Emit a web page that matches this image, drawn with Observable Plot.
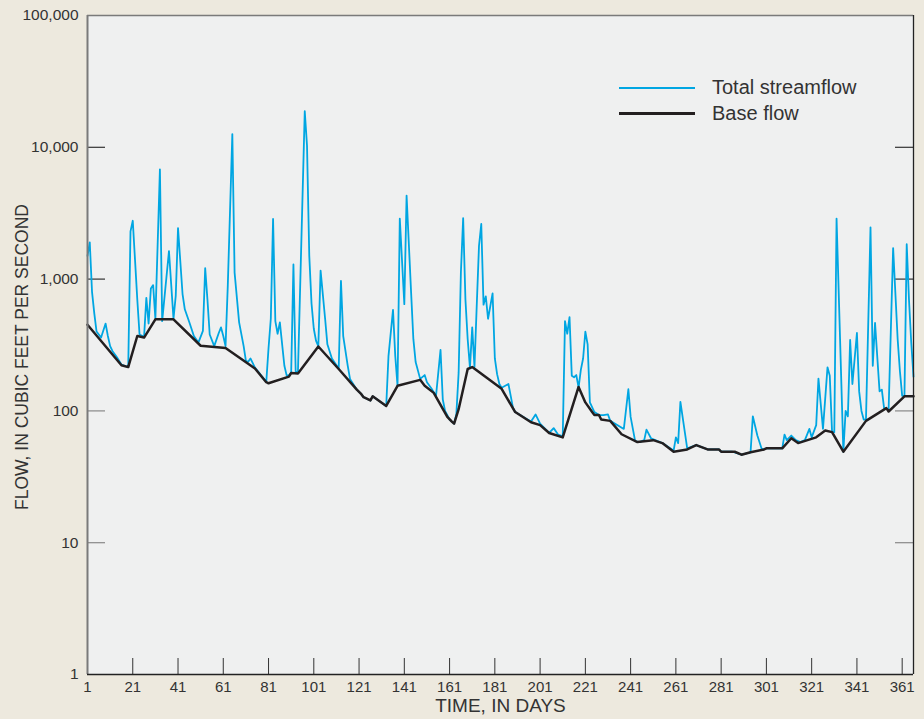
<!DOCTYPE html>
<html><head><meta charset="utf-8">
<script src="https://cdn.jsdelivr.net/npm/d3@7"></script>
<script src="https://cdn.jsdelivr.net/npm/@observablehq/plot@0.6"></script>
<style>
html,body{margin:0;padding:0;background:#ede9de;}
#chart{position:relative;width:924px;height:719px;overflow:hidden;}
#chart svg{display:block;}
.lg{position:absolute;left:0;top:0;font-family:"Liberation Sans",Arial,sans-serif;font-size:20px;color:#333;white-space:nowrap;}
.lg .sw{position:absolute;left:619px;width:76px;}
.lg .tx{position:absolute;left:712px;line-height:22px;}
</style></head>
<body><div id="chart"></div>
<script>
const streamDays = [1,2,3,4,5,6,7,9,10,11,12,14,16,19,20,21,22,23,24,26,27,28,29,30,31,33,34,37,39,40,41,43,44,46,48,50,52,53,54,55,57,59,60,61,62,63,65,66,68,70,71,72,73,75,80,81,82,83,84,85,86,88,89,90,91,92,93,94,97,98,99,100,101,102,103,104,106,107,109,112,113,114,116,117,120,122,123,126,127,133,134,136,137,138,139,141,142,144,145,146,148,150,151,153,155,157,158,159,161,163,164,165,166,167,168,169,170,171,172,173,174,175,176,177,178,180,181,182,183,184,187,189,190,194,197,199,201,205,207,209,211,212,213,214,215,216,217,218,219,220,221,222,223,225,227,229,231,232,238,240,241,243,245,247,248,250,255,260,261,262,263,265,266,270,275,280,281,286,290,294,295,297,299,301,308,309,310,312,314,316,318,320,321,323,324,326,328,329,330,331,332,335,336,337,338,339,341,342,343,344,345,347,348,349,351,352,353,355,357,359,360,361,362,363,364,365,366];
const streamFlow = [1500,1900,800,550,400,380,360,460,370,310,285,255,225,215,2300,2770,1400,700,380,365,720,460,850,900,500,6800,480,1630,500,750,2440,770,590,470,370,330,405,1210,700,380,310,390,430,370,310,900,12600,1120,470,310,240,236,250,213,166,300,500,2860,480,385,470,220,186,186,195,1290,195,200,18800,10300,1500,650,420,340,310,1160,500,320,250,210,970,370,220,175,145,134,127,120,129,109,260,585,260,155,2880,645,4300,790,350,235,175,187,165,148,130,290,122,100,86,80,95,195,1125,2900,700,350,212,430,215,630,1790,2620,640,740,500,780,250,190,160,150,160,106,98,89,83,94,80,68,74,66,64,480,385,515,185,180,187,150,205,250,400,320,116,98,93,93,94,84,73,146,90,59,58,60,72,62,57,50,63,57,117,68,52,55,51,51,49,49,46.5,48.5,91,65,51,52,52,66,60,65,60,58,60,73,63,78,176,73,214,185,70,69,2880,49,100,91,345,160,390,140,100,86,86,2470,220,465,141,145,105,102,1720,350,200,130,130,1840,700,330,182];
const baseDays = [1,16,19,23,26,31,39,51,62,75,80,81,90,91,94,103,112,120,122,123,126,127,133,138,148,150,154,160,162,163,165,169,171,184,190,197,201,205,211,218,221,224,225,227,228,232,237,244,251,255,260,266,270,275,280,281,287,290,294,300,301,308,312,315,323,327,330,335,345,354,355,362,366];
const baseFlow = [450,222,215,370,360,495,495,312,300,210,165,162,182,194,192,308,208,145,134,127,120,129,109,155,172,155,137,90,83,80,103,208,215,147,98,82,78,68,63,152,116,98,93,93,86,84,66.5,58,60,57,49,51,55,51,51,49,49,46.5,48.5,51,52,52,62,57,63,71,69,49,84,105,99,129,129];
const xTicks = [1,21,41,61,81,101,121,141,161,181,201,221,241,261,281,301,321,341,361];
const yTicks = [1,10,100,1000,10000,100000];
const darkInnerTicks = [1000,10000];
const lightInnerTicks = [10,100];
const legendLabels = ["Total streamflow","Base flow"];

const stream = streamDays.map((d,i)=>({day:d, flow:streamFlow[i]}));
const base = baseDays.map((d,i)=>({day:d, flow:baseFlow[i]}));

const W = 924, H = 719, mL = 87, mR = 11, mT = 15, mB = 45;
const pw = W - mL - mR, ph = H - mT - mB;
const font = '"Liberation Sans", Arial, sans-serif';

const chart = Plot.plot({
  width: W, height: H,
  marginLeft: mL, marginRight: mR, marginTop: mT, marginBottom: mB,
  style: {background: "transparent", fontFamily: font, color: "#333"},
  x: {domain: [1, 366]},
  y: {type: "log", domain: [1, 100000]},
  marks: [
    Plot.frame({fill: "#eff0f0", stroke: null}),
    Plot.ruleX(xTicks.slice(1), {stroke: "#333", strokeWidth: 1, insetTop: ph - 16}),
    Plot.ruleY(darkInnerTicks, {stroke: "#333", strokeWidth: 1.2, insetRight: pw - 18}),
    Plot.ruleY(lightInnerTicks, {stroke: "#888", strokeWidth: 1.2, insetRight: pw - 18}),
    Plot.ruleY(darkInnerTicks, {stroke: "#333", strokeWidth: 1.2, insetLeft: pw - 18}),
    Plot.ruleY(lightInnerTicks, {stroke: "#888", strokeWidth: 1.2, insetLeft: pw - 18}),
    Plot.line(stream, {x: "day", y: "flow", stroke: "#00a6e2", strokeWidth: 1.8}),
    Plot.line(base, {x: "day", y: "flow", stroke: "#231f20", strokeWidth: 2.5}),
    Plot.ruleX([1], {stroke: "#7a7a7a", strokeWidth: 2}),
    Plot.ruleY([100000], {stroke: "#7a7a7a", strokeWidth: 1.5}),
    Plot.ruleX([366], {stroke: "#222", strokeWidth: 1.3}),
    Plot.ruleY([1], {stroke: "#222", strokeWidth: 1.3}),
    Plot.axisY({ticks: yTicks, tickSize: 0, tickPadding: 9, tickFormat: d3.format(","), fontSize: 15.5, label: null}),
    Plot.axisX({ticks: xTicks, tickSize: 0, tickPadding: 7, fontSize: 15, label: null}),
    Plot.text(["FLOW, IN CUBIC FEET PER SECOND"], {frameAnchor: "left", textAnchor: "middle", dx: -65, dy: 12, rotate: -90, fontSize: 17.5, fill: "#333"}),
    Plot.text(["TIME, IN DAYS"], {frameAnchor: "bottom", dy: 37, fontSize: 19, fill: "#333"})
  ]
});
const host = document.getElementById("chart");
host.appendChild(chart);

const lg = document.createElement("div");
lg.className = "lg";
lg.innerHTML =
  `<div class="sw" style="top:87px;height:2px;background:#00a6e2"></div>` +
  `<div class="tx" style="top:76px">${legendLabels[0]}</div>` +
  `<div class="sw" style="top:112px;height:3px;background:#231f20"></div>` +
  `<div class="tx" style="top:102px">${legendLabels[1]}</div>`;
host.appendChild(lg);
</script>
</body></html>
